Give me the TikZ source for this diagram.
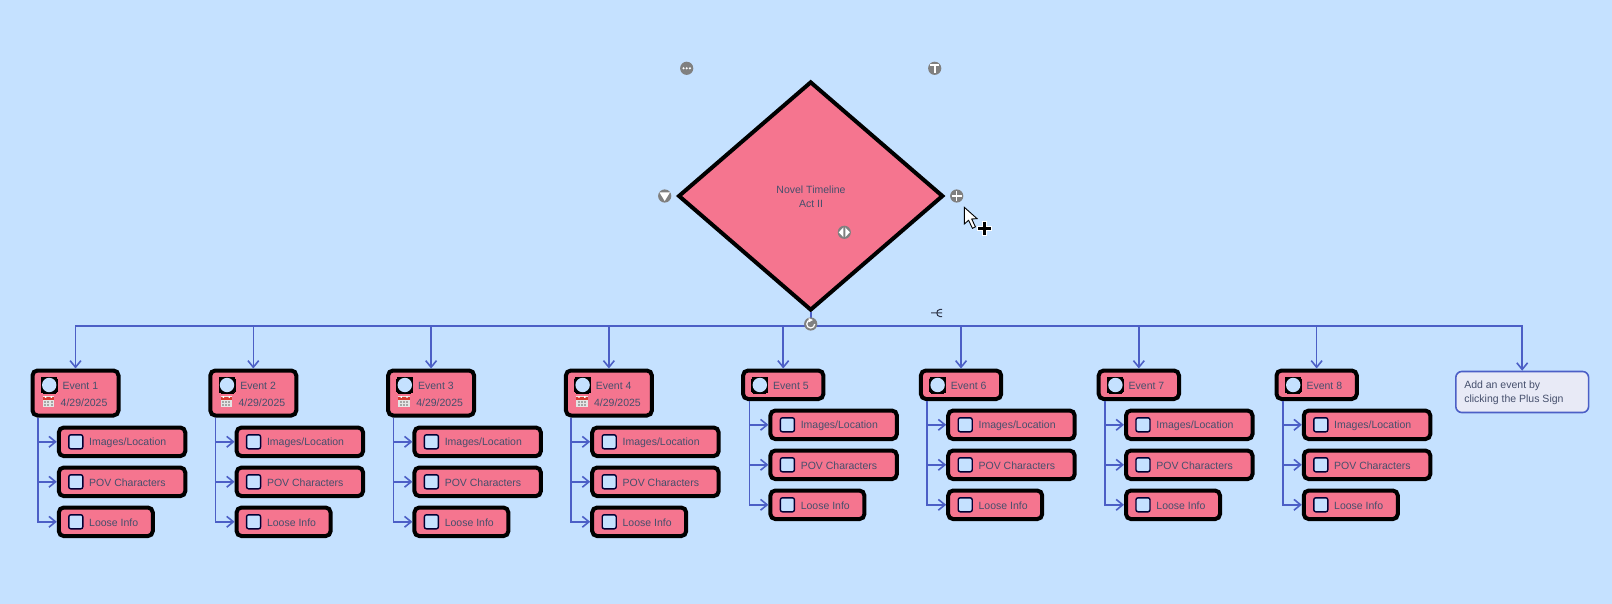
\documentclass[tikz,border=0pt]{standalone}
\usepackage{fontspec}
\setmainfont{Liberation Sans}
\usetikzlibrary{shapes.geometric,arrows.meta}
\definecolor{bgc}{HTML}{C5E1FF}
\definecolor{pinkc}{HTML}{F5758F}
\definecolor{linec}{HTML}{4C5FC6}
\definecolor{textc}{HTML}{454F6C}
\definecolor{notec}{HTML}{E8EAF6}
\definecolor{iconc}{HTML}{808080}
\definecolor{calred}{HTML}{D93A30}
\tikzset{
  lbl/.style={font=\fontsize{5.25}{7}\selectfont,text=textc,inner sep=0pt,outer sep=0pt,anchor=west},
  cardbox/.style={draw=black,fill=pinkc,line width=2pt,rounded corners=2.5pt,inner sep=0pt,anchor=north west},
  notebox/.style={draw=linec,fill=notec,line width=0.8pt,rounded corners=3pt,inner sep=0pt,anchor=north west},
  conn/.style={draw=linec,line width=0.8pt,-{Straight Barb[length=3.3pt,width=5.4pt,line width=0.8pt]}},
  plainline/.style={draw=linec,line width=0.8pt},
  chk/.style={draw=black!80!blue,fill=bgc,line width=0.7pt,rounded corners=1pt,minimum size=7pt,inner sep=0pt},
  toolicon/.style={circle,fill=iconc,minimum size=6.6pt,inner sep=0pt},
}
% #1 id, #2 left, #3 top, #4 outer width, #5 outer height, #6 sub top, #7 sub left offset, #8 trunk shift
\newcommand\evgroup[8]{%
  \pgfmathsetmacro\wa{(#4-3)}\pgfmathsetmacro\ha{(#5-3)}
  \node[cardbox,minimum width=\wa*0.5pt,minimum height=\ha*0.5pt] (ev#1) at (#2-0.5,#3-0.5) {};
  \draw[conn] (busc) -| (ev#1.north);
  \node[draw=black,fill=black,line width=0pt,rounded corners=1pt,minimum size=8pt,inner sep=0pt] (evk#1) at (#2+18.2,#3+16) {};
  \node[circle,fill=bgc,minimum size=7.2pt,inner sep=0pt] (evc#1) at (evk#1) {};
  \node[lbl] (evt#1) at (#2+31.5,#3+17) {Event #1};
  \subcard{#1}{a}{#2+#7-0.5}{#6-0.5}{Images/Location}{129.5}{#8}
  \subcard{#1}{b}{#2+#7-0.5}{#6+39.5}{POV Characters}{129.5}{#8}
  \subcard{#1}{c}{#2+#7-0.5}{#6+79.5}{Loose Info}{97}{#8}
}
\newcommand\subcard[7]{%
  \node[cardbox,minimum width=(#6-3)*0.5pt,minimum height=14.3pt] (s#1#2) at (#3,#4) {};
  \node[chk] (k#1#2) at ([xshift=9.5pt]s#1#2.west) {};
  \node[lbl] (t#1#2) at ([xshift=16.2pt,yshift=-0.7pt]s#1#2.west) {#5};
  \draw[conn] ([xshift=#7pt]ev#1.south west) |- (s#1#2.west);
}
\newcommand\calicon[2]{%
  \fill[black!10] (#1,#2) rectangle (#1+11.5,#2+11);
  \fill[calred] (#1,#2+0.8) rectangle (#1+11.5,#2+3.8);
  \fill[white] (#1+2.2,#2) rectangle (#1+3.6,#2+1.8) (#1+8,#2) rectangle (#1+9.4,#2+1.8);
  \foreach \cx in {1.5,4.7,7.9}\foreach \cy in {5,8}{\fill[black!35] (#1+\cx,#2+\cy) rectangle (#1+\cx+2,#2+\cy+2);}
}
\begin{document}
\begin{tikzpicture}[x=0.5pt,y=-0.5pt]
\fill[bgc] (0,0) rectangle (1612,604);
\useasboundingbox (0,0) rectangle (1612,604);
% main diamond
\node[diamond,draw=black,fill=pinkc,line width=2pt,minimum width=132.5pt,minimum height=114.5pt,aspect=1.16,inner sep=0pt] (dia) at (810.7,196) {};
\node[lbl,anchor=center,align=center] (diat) at (811,196.5) {Novel Timeline\\[0pt]Act II};
\coordinate (busc) at (810.7,326);
\draw[plainline] (dia.south) -- (busc);
\evgroup{1}{31}{369}{89}{48}{426}{26.3}{3.6}
\evgroup{2}{208.8}{369}{89}{48}{426}{26.3}{3.6}
\evgroup{3}{386.6}{369}{89}{48}{426}{26.3}{3.6}
\evgroup{4}{564.4}{369}{89}{48}{426}{26.3}{3.6}
\evgroup{5}{741.6}{369}{83.3}{31.5}{409}{27.3}{4.1}
\evgroup{6}{919.4}{369}{83.3}{31.5}{409}{27.3}{4.1}
\evgroup{7}{1097.2}{369}{83.3}{31.5}{409}{27.3}{4.1}
\evgroup{8}{1275}{369}{83.3}{31.5}{409}{27.3}{4.1}
% dates
\foreach \i/\dx in {1/31,2/208.8,3/386.6,4/564.4}{
  \calicon{\dx+11.7}{396}
  \node[lbl] (date\i) at (\dx+29.7,402.5) {4/29/2025};
}
% note
\node[notebox,minimum width=66.4pt,minimum height=20.5pt] (note) at (1455,370.7) {};
\draw[conn] (busc) -| (note.north);
\node[lbl,align=left] (notet) at (1464.3,392.6) {Add an event by\\[0pt]clicking the Plus Sign};
% tool icons
\node[toolicon] (i1) at (686.7,68.3) {};
\foreach \d in {-3.2,0,3.2}{\fill[white] (686.7+\d,68.3) circle (0.6pt);}
\node[toolicon] (i2) at (934.7,68.3) {};
\draw[white,line width=0.8pt] (930.2,64.8) -- (939.2,64.8) (934.7,64.8) -- (934.7,73);
\node[toolicon] (i3) at (664.7,196) {};
\fill[white] (659.5,192.5) -- (669.9,192.5) -- (664.7,201) -- cycle;
\node[toolicon] (i4) at (956.7,196) {};
\draw[white,line width=0.7pt] (951.7,196) -- (961.7,196) (956.7,191) -- (956.7,201);
\node[toolicon] (i5) at (844.3,232.3) {};
\fill[white] (843.3,227.5) -- (843.3,237.1) -- (838.8,232.3) -- cycle;
\fill[white] (845.3,227.5) -- (845.3,237.1) -- (849.8,232.3) -- cycle;
\node[toolicon] (i6) at (810.7,324) {};
\draw[white,line width=0.6pt] (810.7,320) arc[start angle=90,end angle=360,radius=2pt];
\fill[white] (808.5,318) -- (808.5,322.5) -- (813,320) -- cycle;
% small connector glyph
\draw[textc!70!black,line width=0.5pt] (931,313) -- (942,313) (942,309.4) -- (940,309.4) .. controls (935.8,309.4) and (935.8,316.6) .. (940,316.6) -- (942,316.6);
% mouse cursor
\draw[black,fill=white,line width=0.45pt,line join=miter] (964.3,207.3) -- (964.3,224) -- (968.6,220.3) -- (972.4,228.3) -- (975.4,226.8) -- (971.7,219) -- (977,218.6) -- cycle;
\draw[white,line width=2.6pt] (977,228.7) -- (992.4,228.7) (984.7,221) -- (984.7,236.4);
\draw[black,line width=1.6pt] (978,228.7) -- (991.4,228.7) (984.7,222) -- (984.7,235.4);
\end{tikzpicture}
\end{document}
